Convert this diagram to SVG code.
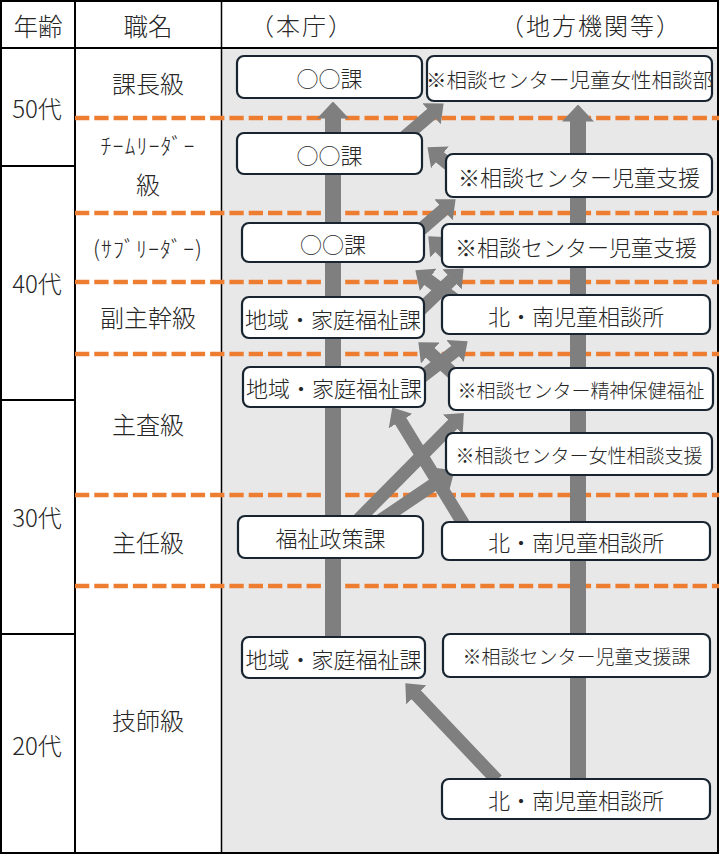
<svg xmlns="http://www.w3.org/2000/svg" width="721" height="857" viewBox="0 0 721 857">
<style>
text{font-family:"Noto Sans CJK JP","Noto Sans",sans-serif;font-weight:300;fill:#262626;dominant-baseline:central;text-anchor:middle}
.hd{font-size:24.5px}
.hp{font-size:24px;letter-spacing:2px}
.lb{font-size:24px}
.hk{font-size:22px;letter-spacing:1px}
.box rect{fill:#fff;stroke:#18242f;stroke-width:2.2}
.f22{font-size:22px}
.f21{font-size:20.5px}
.f19{font-size:19px}
.dash{stroke:#ED7D31;stroke-width:4.5;stroke-dasharray:14.3 5;fill:none}
.grid{stroke:#000;fill:none}
.arr{stroke:#7f7f7f;stroke-width:13;fill:none;marker-end:url(#ah)}
.varr{stroke:#7f7f7f;stroke-width:16;fill:none;marker-end:url(#ahv)}
</style>
<defs>
<marker id="ah" markerUnits="userSpaceOnUse" viewBox="0 -14 16 28" markerWidth="16" markerHeight="28" refX="0.5" refY="0" orient="auto">
<path d="M0,-14 L16,0 L0,14 Z" fill="#7f7f7f"/>
</marker>
<marker id="ahv" markerUnits="userSpaceOnUse" viewBox="0 -16 17 32" markerWidth="17" markerHeight="32" refX="0.5" refY="0" orient="auto">
<path d="M0,-16 L17,0 L0,16 Z" fill="#7f7f7f"/>
</marker>
</defs>
<rect x="0" y="0" width="721" height="857" fill="#fff"/>
<rect x="222" y="49" width="496" height="803" fill="#e8e8e8"/>
<g id="table">
<rect class="grid" x="1" y="1" width="717" height="852" stroke-width="2"/>
<line class="grid" x1="1" y1="48" x2="718" y2="48" stroke-width="2"/>
<line class="grid" x1="75" y1="1" x2="75" y2="853" stroke-width="2"/>
<line class="grid" x1="221.5" y1="1" x2="221.5" y2="853" stroke-width="1.5"/>
<line class="grid" x1="1" y1="166" x2="75" y2="166" stroke-width="2"/>
<line class="grid" x1="1" y1="400" x2="75" y2="400" stroke-width="2"/>
<line class="grid" x1="1" y1="634" x2="75" y2="634" stroke-width="2"/>
</g>
<g id="headers">
<text class="hd" x="38" y="25">年齢</text>
<text class="hd" x="148" y="25">職名</text>
<text class="hp" x="302" y="24">（本庁）</text>
<text class="hp" x="591" y="24">（地方機関等）</text>
</g>
<g id="ages">
<text class="lb" x="37" y="107">50代</text>
<text class="lb" x="37" y="282">40代</text>
<text class="lb" x="37" y="516">30代</text>
<text class="lb" x="37" y="744">20代</text>
</g>
<g id="ranks">
<text class="lb" x="148" y="82">課長級</text>
<text class="hk" x="148" y="144">ﾁｰﾑﾘｰﾀﾞｰ</text>
<text class="lb" x="148" y="183">級</text>
<text class="hk" x="148" y="247">(ｻﾌﾞﾘｰﾀﾞｰ)</text>
<text class="lb" x="148" y="316">副主幹級</text>
<text class="lb" x="148" y="423">主査級</text>
<text class="lb" x="148" y="541">主任級</text>
<text class="lb" x="148" y="719">技師級</text>
</g>
<g id="dashes">
<line class="dash" x1="75" y1="118" x2="719" y2="118"/>
<line class="dash" x1="75" y1="213" x2="719" y2="213"/>
<line class="dash" x1="75" y1="282" x2="719" y2="282"/>
<line class="dash" x1="75" y1="354" x2="719" y2="354"/>
<line class="dash" x1="75" y1="495" x2="719" y2="495"/>
<line class="dash" x1="75" y1="586" x2="719" y2="586"/>
</g>
<g id="connectors">
<path class="varr" d="M333,650 L333,118"/>
<path class="varr" d="M578,782 L578,121"/>
<path class="arr" d="M400,141 L431.9,113.5"/>
<path class="arr" d="M458,172 L439.5,157"/>
<path class="arr" d="M418,232 L443.9,209.5"/>
<path class="arr" d="M455,262 L439.5,247.1"/>
<path class="arr" d="M458,302 L427.8,279.6"/>
<path class="arr" d="M418,312 L452.4,279.1"/>
<path class="arr" d="M458,378 L429.9,352.7"/>
<path class="arr" d="M418,380 L455.4,350.8"/>
<path class="arr" d="M466,528 L400.4,420.7"/>
<path class="arr" d="M358,520 L453,424"/>
<path class="arr" d="M378,522 L441.7,479"/>
<path class="arr" d="M497,780 L416,694.6"/>
</g>
<g id="n1" class="box"><rect x="237" y="56" width="185" height="42" rx="7"/><text class="f22" x="329.5" y="77">○○課</text></g>
<g id="n2" class="box"><rect x="427" y="56" width="285" height="45" rx="7"/><text class="f21" x="569.5" y="78.5">※相談センター児童女性相談部</text></g>
<g id="n3" class="box"><rect x="237" y="133" width="185" height="41" rx="7"/><text class="f22" x="329.5" y="153.5">○○課</text></g>
<g id="n4" class="box"><rect x="446" y="154" width="266" height="43" rx="7"/><text class="f22" x="579" y="175.5">※相談センター児童支援</text></g>
<g id="n5" class="box"><rect x="242" y="223" width="182" height="39" rx="7"/><text class="f22" x="333" y="242.5">○○課</text></g>
<g id="n6" class="box"><rect x="442" y="224" width="268" height="43" rx="7"/><text class="f22" x="576" y="245.5">※相談センター児童支援</text></g>
<g id="n7" class="box"><rect x="242" y="297" width="182" height="41" rx="7"/><text class="f22" x="333" y="317.5">地域・家庭福祉課</text></g>
<g id="n8" class="box"><rect x="442" y="295" width="268" height="39" rx="7"/><text class="f22" x="576" y="314.5">北・南児童相談所</text></g>
<g id="n9" class="box"><rect x="243" y="367" width="182" height="40" rx="7"/><text class="f22" x="334" y="387">地域・家庭福祉課</text></g>
<g id="n10" class="box"><rect x="449" y="368" width="264" height="42" rx="7"/><text class="f19" x="581" y="389">※相談センター精神保健福祉</text></g>
<g id="n11" class="box"><rect x="446" y="433" width="266" height="42" rx="7"/><text class="f19" x="579" y="454">※相談センター女性相談支援</text></g>
<g id="n12" class="box"><rect x="238" y="516" width="185" height="42" rx="7"/><text class="f22" x="330.5" y="537">福祉政策課</text></g>
<g id="n13" class="box"><rect x="442" y="522" width="268" height="38" rx="7"/><text class="f22" x="576" y="541">北・南児童相談所</text></g>
<g id="n14" class="box"><rect x="242" y="637" width="183" height="41" rx="7"/><text class="f22" x="333.5" y="657.5">地域・家庭福祉課</text></g>
<g id="n15" class="box"><rect x="443" y="634" width="267" height="43" rx="7"/><text class="f19" x="576.5" y="655.5">※相談センター児童支援課</text></g>
<g id="n16" class="box"><rect x="442" y="779" width="268" height="40" rx="7"/><text class="f22" x="576" y="799">北・南児童相談所</text></g>
</svg>
